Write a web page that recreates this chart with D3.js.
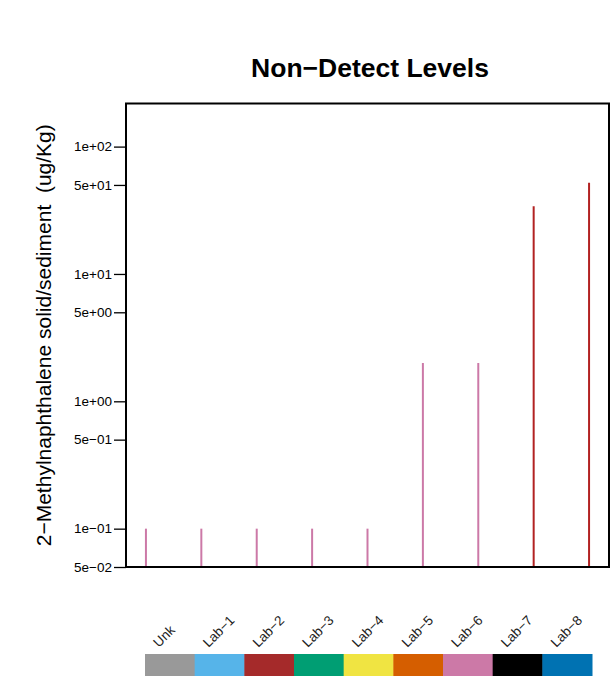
<!DOCTYPE html>
<html>
<head>
<meta charset="utf-8">
<script src="https://cdn.jsdelivr.net/npm/d3@7"></script>
<style>
  html, body { margin: 0; padding: 0; background: #fff; }
  svg { display: block; font-family: "Liberation Sans", Arial, Helvetica, sans-serif; }
</style>
</head>
<body>
<svg id="chart" width="615" height="676"></svg>
<script>
// ---- data ----
const categories = ["Unk", "Lab\u22121", "Lab\u22122", "Lab\u22123", "Lab\u22124", "Lab\u22125", "Lab\u22126", "Lab\u22127", "Lab\u22128"];
const nonDetectValues = [0.1, 0.1, 0.1, 0.1, 0.1, 2, 2, 34, 52];
const yTickValues = [0.05, 0.1, 0.5, 1, 5, 10, 50, 100];
const labPalette = ["#999999", "#56B4E9", "#A52A2A", "#009E73", "#F0E442", "#D55E00", "#CC79A7", "#000000", "#0072B2"];
const barPalette = ["#CC79A7", "#CC79A7", "#CC79A7", "#CC79A7", "#CC79A7", "#CC79A7", "#CC79A7", "#B22222", "#B22222"];
const titleText = "Non\u2212Detect Levels";
const yTitleText = "2\u2212Methylnaphthalene solid/sediment  (ug/Kg)";

// ---- layout ----
const svg = d3.select("#chart");
const plot = { left: 126, right: 609, top: 103.5, bottom: 567 };

const x = d3.scalePoint().domain(categories).range([plot.left, plot.right]).padding(0.36);
const y = d3.scaleLog().domain([0.05, 218]).range([plot.bottom, plot.top]);
const xBar = d3.scaleBand().domain(categories).range([145, 592]).paddingInner(0).paddingOuter(0);

function fmtSci(v) {
  const e = Math.floor(Math.log10(v) + 1e-9);
  const m = Math.round(v / Math.pow(10, e));
  const sign = e < 0 ? "\u2212" : "+";
  const ea = Math.abs(e);
  return m + "e" + sign + (ea < 10 ? "0" + ea : ea);
}

// title
svg.append("text")
  .attr("x", 370)
  .attr("y", 77)
  .attr("text-anchor", "middle")
  .attr("font-weight", "bold")
  .attr("font-size", 26.5)
  .attr("fill", "#000")
  .text(titleText);

// bars (vertical lines from the bottom)
svg.append("g").selectAll("line")
  .data(categories)
  .join("line")
  .attr("x1", d => x(d))
  .attr("x2", d => x(d))
  .attr("y1", y(0.05))
  .attr("y2", (d, i) => y(nonDetectValues[i]))
  .attr("stroke", (d, i) => barPalette[i])
  .attr("stroke-width", 2);

// y axis
const yAxis = d3.axisLeft(y).tickValues(yTickValues).tickFormat(fmtSci).tickSize(12).tickPadding(2);
const gy = svg.append("g").attr("transform", `translate(${plot.left},0)`).call(yAxis)
  .attr("font-size", 13.5).attr("font-family", "Liberation Sans, Arial, sans-serif");
gy.select(".domain").remove();
gy.selectAll(".tick line").attr("stroke", "#000").attr("stroke-width", 1.3);
gy.selectAll(".tick text").attr("font-size", 13.5).attr("fill", "#000");

// box
svg.append("rect")
  .attr("x", plot.left).attr("y", plot.top)
  .attr("width", plot.right - plot.left).attr("height", plot.bottom - plot.top)
  .attr("fill", "none").attr("stroke", "#000").attr("stroke-width", 2);

// y title
svg.append("text")
  .attr("transform", `translate(50.5,${(plot.top + plot.bottom) / 2}) rotate(-90)`)
  .attr("text-anchor", "middle")
  .attr("font-size", 21)
  .attr("fill", "#000")
  .style("white-space", "pre")
  .text(yTitleText);

// rotated category labels
svg.append("g").selectAll("text")
  .data(categories)
  .join("text")
  .attr("transform", d => `translate(${xBar(d) + xBar.bandwidth() / 2 - 11},648) rotate(-45)`)
  .attr("text-anchor", "start")
  .attr("font-size", 13.5)
  .attr("fill", "#222")
  .text(d => d);

// colour strip
svg.append("g").selectAll("rect")
  .data(categories)
  .join("rect")
  .attr("x", d => xBar(d))
  .attr("y", 654)
  .attr("width", xBar.bandwidth() + 0.5)
  .attr("height", 22)
  .attr("fill", (d, i) => labPalette[i]);
</script>
</body>
</html>
